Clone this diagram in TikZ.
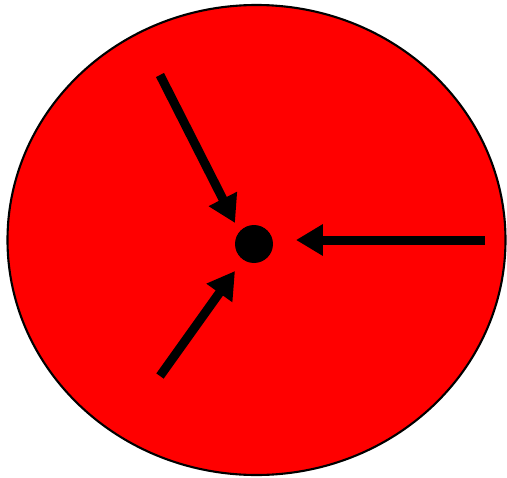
\documentclass[tikz,border=0pt]{standalone}
\usepackage{tikz}
\usetikzlibrary{arrows.meta,positioning,calc}
\definecolor{discred}{RGB}{255,0,0}

\begin{document}
\begin{tikzpicture}[x=0.02cm, y=-0.02cm,
  disc/.style={draw=black, fill=discred, line width=1.2pt},
  core/.style={circle, fill=black, minimum size=0.76cm, inner sep=0pt},
  arr/.style={-{Triangle[length=0.54cm, width=0.6cm]}, line width=0.18cm, black},
]
\useasboundingbox (0,0) rectangle (507,477);
% Red disc
\draw[disc] (256.5,240) ellipse [x radius=249, y radius=235];
% Centre dot
\node[core] (dot) at (254,244) {};
% Tails and tips of the three arrows
\coordinate (tailA) at (160,75);
\coordinate (tipA)  at (235,223);
\coordinate (tailB) at (160,376);
\coordinate (tipB)  at (235,271);
\coordinate (tailC) at (485,240);
\coordinate (tipC)  at (296,240);
\draw[arr] (tailA) -- (tipA);
\draw[arr] (tailB) -- (tipB);
\draw[arr] (tailC) -- (tipC);
\end{tikzpicture}
\end{document}
